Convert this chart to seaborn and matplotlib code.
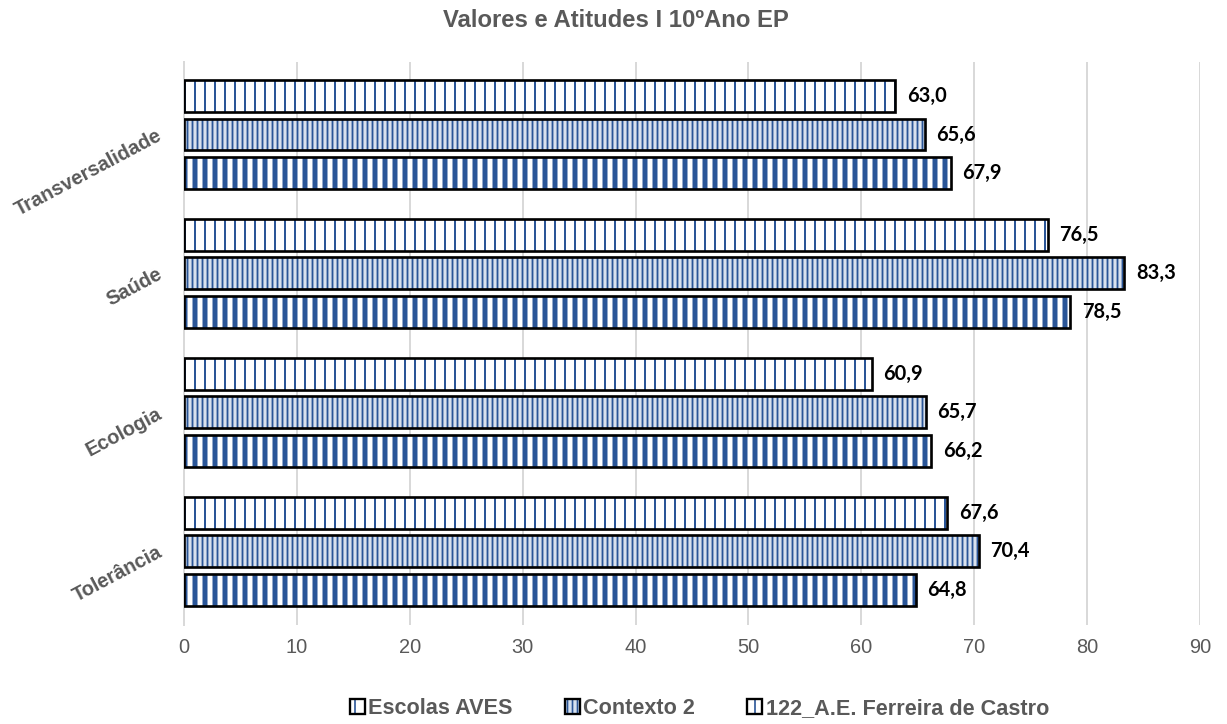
import matplotlib
matplotlib.use("Agg")
import matplotlib.pyplot as plt
import matplotlib.colors as mcolors
from matplotlib.patches import Patch
import seaborn as sns
import pandas as pd

categories = ["Transversalidade", "Saúde", "Ecologia", "Tolerância"]
series_names = ["Escolas AVES", "Contexto 2", "122_A.E. Ferreira de Castro"]
escolas_aves = [63.0, 76.5, 60.9, 67.6]
contexto_2 = [65.6, 83.3, 65.7, 70.4]
ferreira_castro = [67.9, 78.5, 66.2, 64.8]
x_ticks = [0, 10, 20, 30, 40, 50, 60, 70, 80, 90]

rows = []
for name, vals in zip(series_names, [escolas_aves, contexto_2, ferreira_castro]):
    for cat, v in zip(categories, vals):
        rows.append({"Categoria": cat, "Série": name, "Valor": v})
df = pd.DataFrame(rows)

sns.set_style("white")
plt.rcParams["font.family"] = ["Liberation Sans", "DejaVu Sans"]

DARK = "#2a5597"
GREY = "#595959"
faces = ["#ffffff", "#d6e1f0", "#ffffff"]
hatches = ["||", "||||", "||"]
hatch_lw = [1.2, 1.1, 3.0]

fig = plt.figure(figsize=(1227 / 120, 724 / 120), dpi=120)
ax = fig.add_axes([0.15, 0.137, 0.828, 0.777])

sns.barplot(data=df, y="Categoria", x="Valor", hue="Série", order=categories,
            hue_order=series_names, palette=faces, orient="h",
            width=0.83, gap=0.17, dodge=True, legend=False, ax=ax,
            edgecolor="black", linewidth=1.6, zorder=3)


def style_bar(p, i):
    p.set_hatch(hatches[i])
    p.set_edgecolor("black")
    p._hatch_color = mcolors.to_rgba(DARK)
    if hasattr(p, "set_hatch_linewidth"):
        p.set_hatch_linewidth(hatch_lw[i])
    else:
        p._hatch_linewidth = hatch_lw[i]


for i, cont in enumerate(ax.containers):
    for p in cont:
        style_bar(p, i)
    labels = [f"{v:.1f}".replace(".", ",") for v in cont.datavalues]
    ax.bar_label(cont, labels=labels, padding=7, fontsize=12,
                 fontweight="bold", color="black",
                 family=["Lato", "DejaVu Sans"])

ax.set_xlim(0, 90)
ax.set_ylim(3.53, -0.52)
ax.set_xticks(x_ticks)
ax.set_xticklabels([str(t) for t in x_ticks], fontsize=12, color=GREY)
ax.tick_params(axis="x", length=0, pad=8)
ax.tick_params(axis="y", length=0, pad=14)
for lbl in ax.get_yticklabels():
    lbl.set_rotation(28)
    lbl.set_fontsize(12)
    lbl.set_fontweight("bold")
    lbl.set_color(GREY)
    lbl.set_ha("right")
    lbl.set_va("center")
    lbl.set_rotation_mode("anchor")
ax.set_xlabel("")
ax.set_ylabel("")
ax.grid(axis="x", color="#d9d9d9", linewidth=1.2, zorder=0)
ax.set_axisbelow(True)
for s in ["top", "right", "bottom"]:
    ax.spines[s].set_visible(False)
ax.spines["left"].set_color("#d9d9d9")
ax.spines["left"].set_linewidth(1.2)

fig.suptitle("Valores e Atitudes I 10ºAno EP", x=0.502, y=0.988, fontsize=14.3,
             fontweight="bold", color=GREY)

handles = []
for i in range(3):
    h = Patch(facecolor=faces[i], edgecolor="black", hatch=hatches[i], linewidth=1.4)
    h._hatch_color = mcolors.to_rgba(DARK)
    handles.append(h)
leg = fig.legend(handles, series_names, loc="center", bbox_to_anchor=(0.57, 0.021),
                 ncol=3, frameon=False, handlelength=0.7, handleheight=0.7,
                 handletextpad=0.15, columnspacing=2.4, borderpad=0,
                 prop={"weight": "bold", "size": 13})
for t in leg.get_texts():
    t.set_color(GREY)

fig.savefig("out.png", dpi=120)
